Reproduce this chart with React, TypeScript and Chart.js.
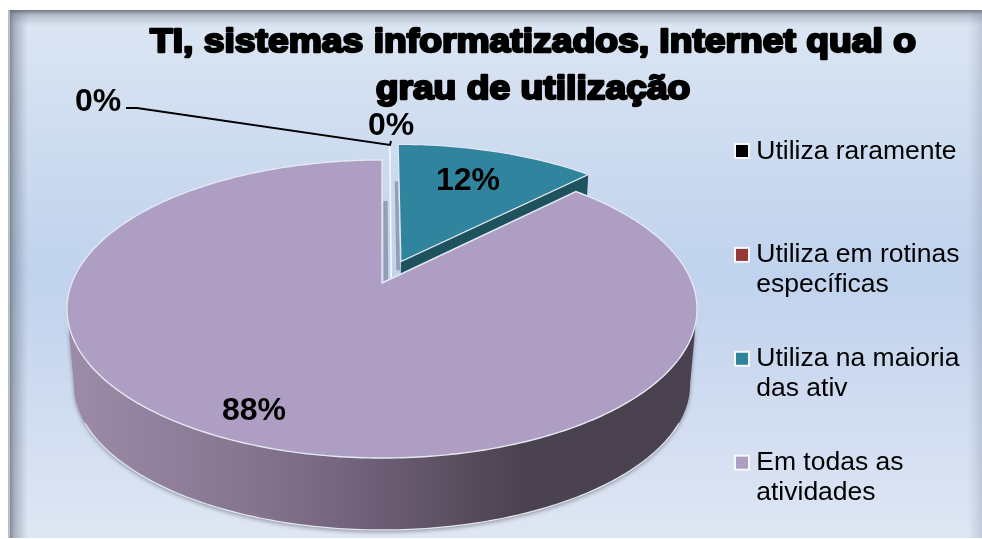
import { useEffect, useRef } from "react";
import { Chart, registerables } from "chart.js";

Chart.register(...registerables);

const categories = ["Utiliza raramente", "Utiliza em rotinas específicas", "Utiliza na maioria das ativ", "Em todas as atividades"];
const legendLines = [["Utiliza raramente", ""], ["Utiliza em rotinas", "específicas"], ["Utiliza na maioria", "das ativ"], ["Em todas as", "atividades"]];
const values = [0, 0, 12.4, 87.6];
const sliceColors = ["#000000", "#953735", "#31849d", "#af9ec4"];
const titleLines = ["TI, sistemas informatizados, Internet qual o", "grau de utilização"];
const FONT = "'Liberation Sans', Arial, sans-serif";

// Perspective projection of the unit disc on the picture
const CX = 382;
const C = -0.1745, A = 95.1, B = 283, AX = 310.2;
const project = (u: number, v: number) => ({ x: CX + (AX * u) / (1 + C * v), y: (A * v + B) / (1 + C * v) });
const S = 0.978, K = 82;
const down = (p: { x: number; y: number }) => ({ x: CX + S * (p.x - CX), y: S * p.y + K });

const explodeOf = (i: number) => (i === 2 ? 0.165 : 0);

function rim(t0: number, t1: number, ox: number, oy: number) {
  const pts = [];
  const n = Math.max(2, Math.ceil(Math.abs(t1 - t0) / 0.015));
  for (let i = 0; i <= n; i++) {
    const t = t0 + ((t1 - t0) * i) / n;
    pts.push(project(ox + Math.sin(t), oy - Math.cos(t)));
  }
  return pts;
}
function trace(ctx: CanvasRenderingContext2D, pts: { x: number; y: number }[]) {
  pts.forEach((p, i) => (i ? ctx.lineTo(p.x, p.y) : ctx.moveTo(p.x, p.y)));
}

const backgroundPlugin = {
  id: "panel",
  beforeDraw(chart: any) {
    const { ctx, width, height } = chart;
    ctx.save();
    ctx.fillStyle = "#ffffff";
    ctx.fillRect(0, 0, width, height);
    const g = ctx.createLinearGradient(0, 10, 0, 538);
    g.addColorStop(0, "#dce6f3");
    g.addColorStop(0.5, "#c0d2ed");
    g.addColorStop(1, "#dfe6f4");
    ctx.fillStyle = g;
    ctx.fillRect(8, 10, width - 8, 528);
    const l = ctx.createLinearGradient(8, 0, 28, 0);
    l.addColorStop(0, "rgba(95,100,110,0.85)");
    l.addColorStop(0.3, "rgba(110,120,135,0.5)");
    l.addColorStop(1, "rgba(130,140,160,0)");
    ctx.fillStyle = l;
    ctx.fillRect(8, 10, 20, 528);
    const t = ctx.createLinearGradient(0, 10, 0, 26);
    t.addColorStop(0, "rgba(95,100,110,0.85)");
    t.addColorStop(0.3, "rgba(110,120,135,0.4)");
    t.addColorStop(1, "rgba(130,140,160,0)");
    ctx.fillStyle = t;
    ctx.fillRect(8, 10, width - 8, 16);
    const r = ctx.createLinearGradient(968, 0, 982, 0);
    r.addColorStop(0, "rgba(130,140,160,0)");
    r.addColorStop(1, "rgba(130,140,160,0.3)");
    ctx.fillStyle = r;
    ctx.fillRect(968, 10, 14, 528);
    ctx.fillStyle = "#b9bfc6";
    ctx.fillRect(8, 10, 2, 528);
    ctx.restore();
  },
};

const layoutPlugin = {
  id: "placeBlocks",
  afterLayout(chart: any) {
    const lg = chart.legend;
    const pad = chart.options.plugins.legend.labels.padding;
    const w = lg.right - lg.left;
    lg.left = 735 - pad;
    lg.right = lg.left + w;
    const h = lg.bottom - lg.top;
    lg.top = 138 - pad;
    lg.bottom = lg.top + h;

    const tb = chart.titleBlock;
    if (!tb._stretched) {
      tb._stretched = true;
      const base = tb.draw;
      const stretch = 1.096;
      const mid = 533;
      tb.left = 0;
      tb.right = 982;
      tb.draw = function (...args: any[]) {
        const ctx = chart.ctx;
        const opts = chart.options.plugins.title;
        const lh = opts.font.size * opts.font.lineHeight;
        ctx.save();
        ctx.translate(mid, 0);
        ctx.scale(stretch, 1);
        ctx.translate(-(this.left + this.right) / 2, 0);
        base.apply(this, args);
        ctx.font = `bold ${opts.font.size}px ${FONT}`;
        ctx.textAlign = "center";
        ctx.textBaseline = "middle";
        ctx.lineJoin = "round";
        ctx.strokeStyle = "#000";
        ctx.lineWidth = 2.4;
        titleLines.forEach((line, i) => {
          ctx.strokeText(line, (this.left + this.right) / 2, this.top + opts.padding.top + lh / 2 + i * lh);
        });
        ctx.restore();
      };
    }
  },
};

const pie3dPlugin = {
  id: "pie3d",
  beforeDatasetDraw(chart: any) {
    const { ctx } = chart;
    const meta = chart.getDatasetMeta(0);
    const arcs = meta.data.map((el: any, i: number) => {
      const { startAngle, endAngle } = el.getProps(["startAngle", "endAngle"], true);
      const t0 = startAngle + Math.PI / 2;
      const t1 = endAngle + Math.PI / 2;
      const mid = (t0 + t1) / 2;
      const e = explodeOf(i);
      return { i, t0, t1, ox: e * Math.sin(mid), oy: -e * Math.cos(mid) };
    });
    const teal = arcs[2];
    const purple = arcs[3];
    const rimLine = "#e4e8f0";
    ctx.save();

    // zero-value slices: a thin white sliver
    const zo = 0.03;
    const zTop = project(zo, -1.149), zBot = project(zo, -0.03);
    ctx.strokeStyle = "#f4f7fb";
    ctx.lineWidth = 1.6;
    ctx.beginPath();
    ctx.moveTo(zTop.x, zTop.y);
    ctx.lineTo(zBot.x, zBot.y);
    ctx.stroke();

    // inner cut faces seen beside the sliver
    ctx.fillStyle = "rgba(128,140,160,0.75)";
    const strip = (u0: number, u1: number, v0: number, v1: number) => {
      const a = project(u0, v0), b = project(u1, v0), c = project(u1, v1), d = project(u0, v1);
      ctx.beginPath();
      trace(ctx, [a, b, c, d]);
      ctx.closePath();
      ctx.fill();
    };
    strip(0.005, 0.02, -0.63, 0);
    strip(0.047, 0.059, -0.8, -0.09);

    // teal cut wall and top
    const tEnd = rim(teal.t1, teal.t1, teal.ox, teal.oy)[0];
    const tApex = project(teal.ox, teal.oy);
    ctx.fillStyle = "#1f525f";
    ctx.beginPath();
    trace(ctx, [tApex, tEnd, down(tEnd), down(tApex)]);
    ctx.closePath();
    ctx.fill();
    ctx.beginPath();
    trace(ctx, [tApex, ...rim(teal.t0, teal.t1, teal.ox, teal.oy)]);
    ctx.closePath();
    ctx.fillStyle = sliceColors[2];
    ctx.fill();
    ctx.strokeStyle = rimLine;
    ctx.lineWidth = 1.2;
    ctx.stroke();

    // purple side wall (front half of the rim, tangent to tangent)
    const deg = Math.PI / 180;
    const top = rim(100 * deg, 260 * deg, 0, 0);
    const bottom = top.map(down).reverse();
    const g = ctx.createLinearGradient(67, 0, 697, 0);
    g.addColorStop(0, "#9d8ca9");
    g.addColorStop(0.3, "#85748e");
    g.addColorStop(0.45, "#73637c");
    g.addColorStop(0.72, "#4b424f");
    g.addColorStop(1, "#4a4150");
    ctx.save();
    ctx.shadowColor = "rgba(70,70,80,0.5)";
    ctx.shadowBlur = 4;
    ctx.shadowOffsetY = 2;
    ctx.fillStyle = g;
    ctx.beginPath();
    trace(ctx, [...top, ...bottom]);
    ctx.closePath();
    ctx.fill();
    ctx.restore();
    ctx.strokeStyle = rimLine;
    ctx.lineWidth = 1.2;
    ctx.beginPath();
    trace(ctx, rim(115 * deg, 245 * deg, 0, 0).map(down));
    ctx.stroke();

    // purple top face
    ctx.beginPath();
    trace(ctx, [project(0, 0), ...rim(purple.t0, purple.t1, 0, 0)]);
    ctx.closePath();
    ctx.fillStyle = sliceColors[3];
    ctx.fill();
    ctx.strokeStyle = rimLine;
    ctx.lineWidth = 1.4;
    ctx.stroke();
    ctx.restore();
    return false;
  },
  afterDatasetsDraw(chart: any) {
    const { ctx } = chart;
    const data = chart.data.datasets[0].data;
    const at = [
      { x: 98, y: 102 },
      { x: 391, y: 126 },
      { x: 468, y: 181 },
      { x: 254, y: 411 },
    ];
    ctx.save();
    ctx.fillStyle = "#000";
    ctx.font = `bold 32px ${FONT}`;
    ctx.textAlign = "center";
    ctx.textBaseline = "middle";
    data.forEach((v: number, i: number) => ctx.fillText(`${Math.round(v)}%`, at[i].x, at[i].y));
    ctx.strokeStyle = "#000";
    ctx.lineWidth = 2;
    ctx.beginPath();
    ctx.moveTo(126, 108);
    ctx.lineTo(137, 108);
    ctx.lineTo(390, 145);
    ctx.lineTo(391, 141);
    ctx.stroke();
    ctx.restore();
  },
  afterDraw(chart: any) {
    // legend swatches at full width: the library leaves room for a narrow key only
    const { ctx } = chart;
    const lg = chart.legend;
    ctx.save();
    lg.legendHitBoxes.forEach((box: any, i: number) => {
      ctx.fillStyle = sliceColors[i];
      ctx.strokeStyle = "#f4f7fb";
      ctx.lineWidth = 2;
      const top = box.top + 6;
      ctx.fillRect(735, top, 14, 14);
      ctx.strokeRect(735, top, 14, 14);
    });
    ctx.restore();
  },
};

export default function App() {
  const ref = useRef<HTMLCanvasElement>(null);
  useEffect(() => {
    document.body.style.margin = "0";
    const chart = new Chart(ref.current!, {
      type: "pie",
      data: {
        labels: categories,
        datasets: [{ data: values, backgroundColor: sliceColors, borderWidth: 0 }],
      },
      plugins: [backgroundPlugin, layoutPlugin, pie3dPlugin],
      options: {
        responsive: false,
        animation: false,
        plugins: {
          tooltip: { enabled: false },
          title: {
            display: true,
            text: titleLines,
            color: "#000",
            font: { family: FONT, size: 34, weight: "bold", lineHeight: 1.38 },
            padding: { top: 19, bottom: 0 },
          },
          legend: {
            position: "right",
            align: "start",
            labels: {
              color: "#000",
              font: { family: FONT, size: 26.5, lineHeight: 1.13 },
              boxWidth: 8,
              boxHeight: 14,
              padding: 44,
              generateLabels: () =>
                legendLines.map((text, i) => ({
                  text,
                  fillStyle: sliceColors[i],
                  strokeStyle: "#f4f7fb",
                  lineWidth: 0,
                  index: i,
                  hidden: false,
                })) as any,
            },
          },
        },
      },
    } as any);
    return () => chart.destroy();
  }, []);
  return <canvas ref={ref} width={982} height={539} style={{ display: "block", width: 982, height: 539 }} />;
}
